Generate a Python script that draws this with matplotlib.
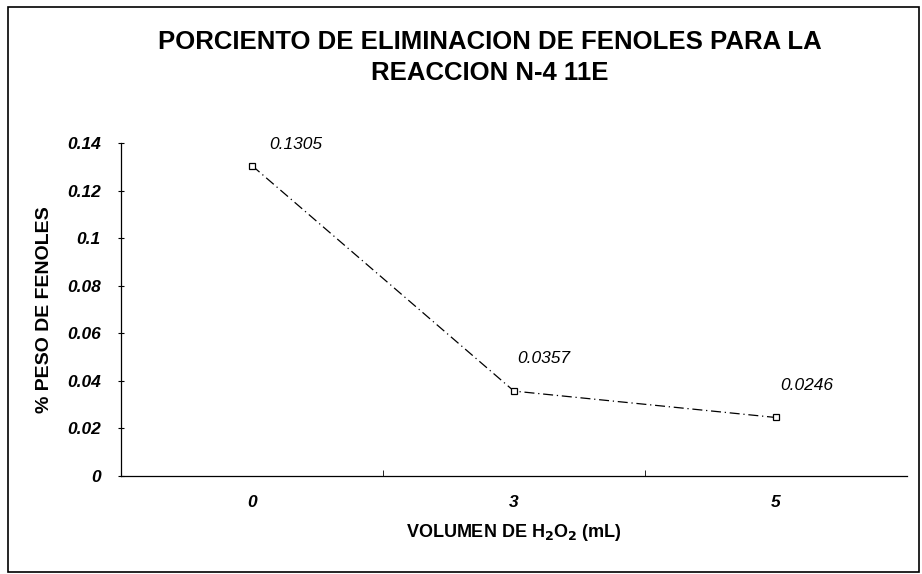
import matplotlib
matplotlib.use("Agg")
import matplotlib.pyplot as plt
from matplotlib.patches import Rectangle

# Daten
volumen = ["0", "3", "5"]
peso_fenoles = [0.1305, 0.0357, 0.0246]
etiquetas = ["0.1305", "0.0357", "0.0246"]
y_ticks = [0, 0.02, 0.04, 0.06, 0.08, 0.1, 0.12, 0.14]
y_ticklabels = ["0", "0.02", "0.04", "0.06", "0.08", "0.1", "0.12", "0.14"]

plt.rcParams["font.family"] = ["Liberation Sans", "DejaVu Sans"]

fig = plt.figure(figsize=(9.22, 5.74), dpi=100)
ax = fig.add_axes([0.1312, 0.1707, 0.8525, 0.5802])

x = list(range(len(volumen)))
ax.plot(x, peso_fenoles, color="black", linewidth=0.9, linestyle=(0, (8, 3, 1, 3)),
        marker="s", markersize=4, markerfacecolor="white", markeredgecolor="black",
        markeredgewidth=0.9)

# Datenbeschriftungen
offsets = [(17, 21), (3, 33), (4, 32)]
for xi, yi, txt, off in zip(x, peso_fenoles, etiquetas, offsets):
    ax.annotate(txt, (xi, yi), xytext=off, textcoords="offset pixels",
                fontsize=12.5, fontstyle="italic", ha="left", va="center")

ax.set_xlim(-0.5, 2.5)
ax.set_ylim(0, 0.14)
ax.set_xticks(x)
ax.set_xticklabels(volumen, fontsize=12.5, fontweight="bold", fontstyle="italic")
ax.set_xticks([0.5, 1.5], minor=True)
ax.tick_params(axis="x", which="major", length=0, pad=14)
ax.tick_params(axis="x", which="minor", length=4, direction="in")
ax.set_yticks(y_ticks)
ax.set_yticklabels(y_ticklabels, fontsize=12.5, fontweight="bold", fontstyle="italic")
ax.tick_params(axis="y", length=5, direction="inout", pad=12)

for s in ["top", "right"]:
    ax.spines[s].set_visible(False)
ax.spines["left"].set_linewidth(0.9)
ax.spines["bottom"].set_linewidth(0.9)

ax.set_ylabel("% PESO DE FENOLES", fontsize=14, fontweight="bold", labelpad=10)
ax.set_xlabel("VOLUMEN DE H$_\\mathbf{2}$O$_\\mathbf{2}$ (mL)", fontsize=13,
              fontweight="bold", labelpad=8)

fig.text(0.531, 0.90, "PORCIENTO DE ELIMINACION DE FENOLES PARA LA\nREACCION N-4 11E",
         ha="center", va="center", fontsize=18.5, fontweight="bold", linespacing=1.35)

# Rahmen um das Diagramm
fig.patches.append(Rectangle((8 / 922, 2 / 574), 911 / 922, 565 / 574,
                             transform=fig.transFigure, fill=False,
                             edgecolor="black", linewidth=1.2))

plt.savefig("out.png", dpi=100)
